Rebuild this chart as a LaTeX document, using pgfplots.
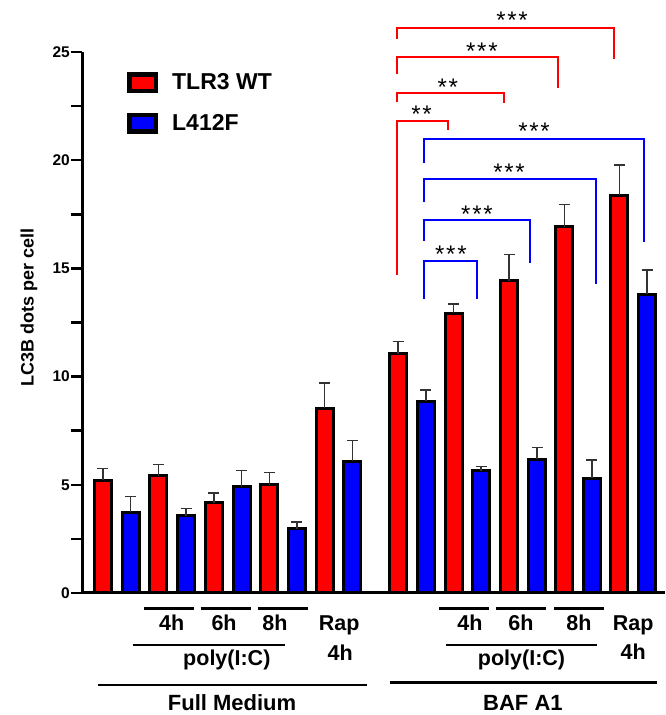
\documentclass[border=0pt]{standalone}
\usepackage{fontspec}
\setmainfont{Liberation Sans}
\usepackage{pgfplots}
\pgfplotsset{compat=1.18}
\definecolor{myred}{RGB}{255,0,0}
\definecolor{myblue}{RGB}{0,0,255}
\newcommand\labf{\fontsize{21.5}{21.5}\selectfont\bfseries}
\newcommand\bigf{\fontsize{22}{22}\selectfont\bfseries}
\newcommand\starf{\fontsize{24}{24}\selectfont}
\newcommand\three{*\kern1.7pt*\kern1.7pt*}
\newcommand\two{*\kern1.7pt*}
\begin{document}
\begin{tikzpicture}
\begin{axis}[
  x=27.7pt, y=21.64pt,
  xmin=-0.758, xmax=20.29, ymin=0, ymax=25,
  clip=false,
  axis x line*=bottom, axis y line*=left,
  axis line style={line width=3pt, black},
  xtick=\empty,
  ytick={0,5,10,15,20,25},
  minor ytick={2.5,7.5,12.5,17.5,22.5},
  tick align=outside,
  major tick length=11pt, minor tick length=11pt,
  tick style={line width=2.5pt, black},
  /pgf/number format/assume math mode=true,
  yticklabel style={font=\fontsize{15.5}{15.5}\selectfont\bfseries, inner sep=1pt},
  ylabel={LC3B dots per cell},
  ylabel style={font=\fontsize{18}{18}\selectfont\bfseries, at={(axis description cs:-0.0908,0.528)}, anchor=center},
  legend cell align=left,
  legend image code/.code={\path (0pt,-9pt) rectangle (28pt,9pt);
     \draw[#1, line width=3pt] (1.5pt,-7.5pt) rectangle (26.5pt,7.5pt);},
  legend style={at={(axis cs:0.866,22.65)}, anchor=west, draw=none, fill=none,
     inner sep=0pt, row sep=19.5pt, font=\fontsize{23}{23}\selectfont\bfseries,
     nodes={inner sep=0pt}, /tikz/every odd column/.append style={column sep=14pt}},
]
\coordinate (O) at (axis cs:0,0);
% TLR3 WT
\addplot[ybar, bar width=17pt, bar shift=0pt, fill=myred, draw=black, line width=3pt,
  error bars/.cd, y dir=plus, y explicit, error mark=|,
  error bar style={line width=1.4pt, black!80},
  error mark options={line width=1.4pt, black!80, mark size=5.5pt}]
coordinates {
 (0,5.22) +- (0,0.54)
 (2,5.41) +- (0,0.52)
 (4,4.18) +- (0,0.45)
 (6,5.01) +- (0,0.55)
 (8,8.53) +- (0,1.17)
 (10.65,11.05) +- (0,0.56)
 (12.66,12.92) +- (0,0.43)
 (14.66,14.43) +- (0,1.22)
 (16.65,16.93) +- (0,1.03)
 (18.64,18.37) +- (0,1.41)
};
\addlegendentry{TLR3 WT}
% L412F
\addplot[ybar, bar width=17pt, bar shift=0pt, fill=myblue, draw=black, line width=3pt,
  error bars/.cd, y dir=plus, y explicit, error mark=|,
  error bar style={line width=1.4pt, black!80},
  error mark options={line width=1.4pt, black!80, mark size=5.5pt}]
coordinates {
 (1,3.72) +- (0,0.73)
 (3,3.58) +- (0,0.33)
 (5,4.92) +- (0,0.73)
 (7,2.97) +- (0,0.31)
 (9,6.09) +- (0,0.95)
 (11.66,8.85) +- (0,0.53)
 (13.65,5.65) +- (0,0.19)
 (15.67,6.18) +- (0,0.53)
 (17.65,5.30) +- (0,0.85)
 (19.64,13.81) +- (0,1.12)
};
\addlegendentry{L412F}
% significance brackets (red)
\addplot[myred, line width=2pt, forget plot] coordinates {(10.6,25.59) (10.6,26.12) (18.45,26.12) (18.45,24.68)};
\addplot[myred, line width=2pt, forget plot] coordinates {(10.6,23.98) (10.6,24.75) (16.43,24.75) (16.43,23.32)};
\addplot[myred, line width=2pt, forget plot] coordinates {(10.6,22.70) (10.6,23.09) (14.48,23.09) (14.48,22.63)};
\addplot[myred, line width=2pt, forget plot] coordinates {(10.6,14.69) (10.6,21.81) (12.45,21.81) (12.45,21.40)};
% significance brackets (blue)
\addplot[myblue, line width=2pt, forget plot] coordinates {(11.59,19.88) (11.59,20.97) (19.53,20.97) (19.53,16.23)};
\addplot[myblue, line width=2pt, forget plot] coordinates {(11.59,18.08) (11.59,19.13) (17.8,19.13) (17.8,14.28)};
\addplot[myblue, line width=2pt, forget plot] coordinates {(11.59,16.28) (11.59,17.25) (15.42,17.25) (15.42,15.25)};
\addplot[myblue, line width=2pt, forget plot] coordinates {(11.59,13.59) (11.59,15.34) (13.5,15.34) (13.5,13.59)};
% stars
\node[anchor=base, font=\starf] at (axis cs:14.77,26.08) {\three};
\node[anchor=base, font=\starf] at (axis cs:13.68,24.66) {\three};
\node[anchor=base, font=\starf] at (axis cs:12.45,23.00) {\two};
\node[anchor=base, font=\starf] at (axis cs:11.50,21.72) {\two};
\node[anchor=base, font=\starf] at (axis cs:15.56,20.96) {\three};
\node[anchor=base, font=\starf] at (axis cs:14.66,19.07) {\three};
\node[anchor=base, font=\starf] at (axis cs:13.50,17.10) {\three};
\node[anchor=base, font=\starf] at (axis cs:12.56,15.25) {\three};
% group lines
\addplot[black, line width=2.5pt, forget plot] coordinates {(1.48,-0.707) (3.29,-0.707)};
\addplot[black, line width=2.5pt, forget plot] coordinates {(3.53,-0.707) (5.33,-0.707)};
\addplot[black, line width=2.5pt, forget plot] coordinates {(5.58,-0.707) (7.39,-0.707)};
\addplot[black, line width=2.5pt, forget plot] coordinates {(12.13,-0.707) (13.94,-0.707)};
\addplot[black, line width=2.5pt, forget plot] coordinates {(14.19,-0.707) (15.99,-0.707)};
\addplot[black, line width=2.5pt, forget plot] coordinates {(16.28,-0.707) (18.09,-0.707)};
\addplot[black, line width=2.5pt, forget plot] coordinates {(1.08,-2.403) (6.57,-2.403)};
\addplot[black, line width=2.5pt, forget plot] coordinates {(12.38,-2.403) (17.83,-2.403)};
\addplot[black, line width=2.5pt, forget plot] coordinates {(-0.18,-4.25) (9.53,-4.25)};
\addplot[black, line width=2.5pt, forget plot] coordinates {(10.36,-4.145) (20.0,-4.145)};
% group labels
\node[anchor=base, font=\labf] at (axis cs:2.48,-1.75) {4h};
\node[anchor=base, font=\labf] at (axis cs:4.37,-1.75) {6h};
\node[anchor=base, font=\labf] at (axis cs:6.21,-1.75) {8h};
\node[anchor=base, font=\labf] at (axis cs:8.53,-1.75) {Rap};
\node[anchor=base, font=\labf] at (axis cs:8.56,-3.10) {4h};
\node[anchor=base, font=\labf] at (axis cs:4.47,-3.35) {poly(I:C)};
\node[anchor=base, font=\bigf] at (axis cs:4.66,-5.41) {Full Medium};
\node[anchor=base, font=\labf] at (axis cs:13.25,-1.72) {4h};
\node[anchor=base, font=\labf] at (axis cs:15.09,-1.72) {6h};
\node[anchor=base, font=\labf] at (axis cs:17.18,-1.72) {8h};
\node[anchor=base, font=\labf] at (axis cs:19.14,-1.72) {Rap};
\node[anchor=base, font=\labf] at (axis cs:19.14,-3.05) {4h};
\node[anchor=base, font=\labf] at (axis cs:15.11,-3.35) {poly(I:C)};
\node[anchor=base, font=\bigf] at (axis cs:15.16,-5.41) {BAF A1};
\end{axis}
\pgfresetboundingbox
\path[use as bounding box] ([shift={(-103pt,-122pt)}]O) rectangle ([shift={(562pt,593pt)}]O);
\end{tikzpicture}
\end{document}
